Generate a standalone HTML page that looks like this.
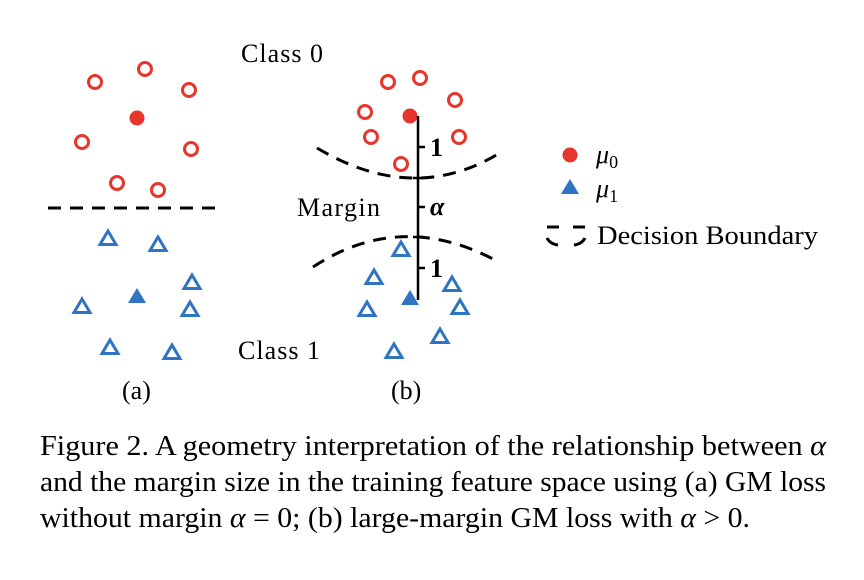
<!DOCTYPE html>
<html><head><meta charset="utf-8"><style>
html,body{margin:0;padding:0;background:#fff;}
svg{display:block;font-family:"Liberation Serif",serif;}
</style></head><body>
<svg width="864" height="580" viewBox="0 0 864 580" xmlns="http://www.w3.org/2000/svg">
<g fill="none" stroke="#e8352b" stroke-width="3">
<circle cx="95" cy="82" r="6.5"/><circle cx="145" cy="69" r="6.5"/><circle cx="189" cy="90" r="6.5"/>
<circle cx="82" cy="142" r="6.5"/><circle cx="191" cy="149" r="6.5"/><circle cx="117" cy="183" r="6.5"/><circle cx="158" cy="190" r="6.5"/>
<circle cx="388" cy="82" r="6.5"/><circle cx="420" cy="78" r="6.5"/><circle cx="455" cy="100" r="6.5"/>
<circle cx="365" cy="112" r="6.5"/><circle cx="371" cy="137" r="6.5"/><circle cx="459" cy="137" r="6.5"/><circle cx="401" cy="164" r="6.5"/>
</g>
<g fill="#e8352b"><circle cx="137" cy="118" r="7.5"/><circle cx="410" cy="116" r="7.5"/><circle cx="570" cy="155" r="7.5"/></g>
<defs><path id="t" d="M0,-8 L8,5.5 L-8,5.5 Z"/><path id="tf" d="M0,-9 L9,6 L-9,6 Z"/></defs>
<g fill="none" stroke="#2f74c0" stroke-width="3" stroke-linejoin="miter">
<use href="#t" x="108" y="239"/><use href="#t" x="158" y="245"/><use href="#t" x="192" y="283"/>
<use href="#t" x="82" y="307"/><use href="#t" x="190" y="310"/><use href="#t" x="110" y="348"/><use href="#t" x="172" y="353"/>
<use href="#t" x="401" y="250"/><use href="#t" x="374" y="278"/><use href="#t" x="452" y="285"/>
<use href="#t" x="367" y="310"/><use href="#t" x="460" y="308"/><use href="#t" x="440" y="337"/><use href="#t" x="394" y="352"/>
</g>
<g fill="#2f74c0"><use href="#tf" x="137" y="297"/><use href="#tf" x="410" y="299"/><use href="#tf" x="570" y="188"/></g>
<g fill="none" stroke="#000" stroke-width="3" stroke-dasharray="13,9">
<line x1="48" y1="208" x2="216" y2="208"/>
<path d="M317,148 Q413,205 498,154"/>
<path d="M313,267 Q400,210 495,260"/>
</g>
<path d="M547,227 L559,227 M573,227 L585,227 M547,238 Q550,244 558,245 M574,245 Q582,244 585,238" stroke="#000" stroke-width="3" fill="none"/>
<g stroke="#000" stroke-width="2.5">
<line x1="418" y1="116" x2="418" y2="300"/>
<line x1="418" y1="147" x2="425" y2="147"/><line x1="413" y1="178" x2="423" y2="178"/>
<line x1="418" y1="207" x2="425" y2="207"/><line x1="413" y1="237" x2="423" y2="237"/><line x1="418" y1="268" x2="425" y2="268"/>
</g>
<g font-size="26" fill="#000">
<text x="241" y="62" textLength="82">Class 0</text>
<text x="297" y="216" textLength="83">Margin</text>
<text x="238" y="359" textLength="82">Class 1</text>
<text x="122" y="399">(a)</text>
<text x="391" y="399">(b)</text>
<text x="430" y="156" font-weight="bold">1</text>
<text x="430" y="215" font-weight="bold" font-style="italic">α</text>
<text x="430" y="277" font-weight="bold">1</text>
<text x="596" y="163" font-style="italic">μ<tspan font-size="18" font-style="normal" dy="5">0</tspan></text>
<text x="596" y="197" font-style="italic">μ<tspan font-size="18" font-style="normal" dy="5">1</tspan></text>
<text x="597" y="244" textLength="221" lengthAdjust="spacingAndGlyphs">Decision Boundary</text>
</g>
<g font-size="28" fill="#000">
<text x="40" y="455" textLength="786" lengthAdjust="spacingAndGlyphs">Figure 2. A geometry interpretation of the relationship between <tspan font-style="italic">α</tspan></text>
<text x="40" y="491" textLength="786" lengthAdjust="spacingAndGlyphs">and the margin size in the training feature space using (a) GM loss</text>
<text x="40" y="527" textLength="710" lengthAdjust="spacingAndGlyphs">without margin <tspan font-style="italic">α</tspan> = 0; (b) large-margin GM loss with <tspan font-style="italic">α</tspan> &gt; 0.</text>
</g>
</svg>
</body></html>
